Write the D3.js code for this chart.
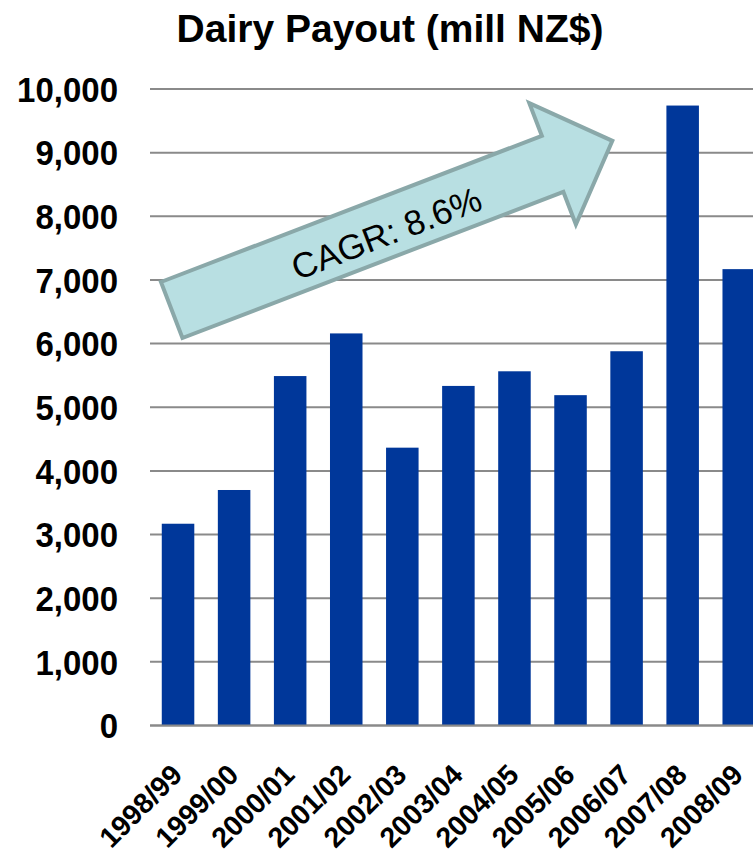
<!DOCTYPE html>
<html>
<head>
<meta charset="utf-8">
<script src="https://cdn.jsdelivr.net/npm/d3@7/dist/d3.min.js"></script>
<style>
  html, body { margin: 0; padding: 0; background: #ffffff; }
  svg { display: block; }
  text { font-family: "Liberation Sans", Arial, Helvetica, sans-serif; fill: #000; }
</style>
</head>
<body>
<svg id="chart" width="753" height="858"></svg>
<script>
// Dairy payout by season, millions of NZ$
const seasons = ["1998/99", "1999/00", "2000/01", "2001/02", "2002/03", "2003/04",
                 "2004/05", "2005/06", "2006/07", "2007/08", "2008/09"];
const payout = [3170, 3700, 5490, 6160, 4365, 5335, 5565, 5190, 5880, 9740, 7170];
const yTicks = [0, 1000, 2000, 3000, 4000, 5000, 6000, 7000, 8000, 9000, 10000];
const chartTitle = "Dairy Payout (mill NZ$)";
const cagrLabel = "CAGR: 8.6%";

const W = 753, H = 858;
const plotLeft = 150, plotTop = 89, plotBottom = 725.5;
const step = 56.07;

const svg = d3.select("#chart");

const x = d3.scaleBand()
  .domain(seasons)
  .range([plotLeft, plotLeft + step * seasons.length])
  .paddingInner(0.42)
  .paddingOuter(0.21);

const y = d3.scaleLinear()
  .domain([0, 10000])
  .range([plotBottom, plotTop]);

// Title
svg.append("text")
  .attr("x", 390)
  .attr("y", 42)
  .attr("text-anchor", "middle")
  .style("font-size", "39px")
  .style("font-weight", "bold")
  .text(chartTitle);

// Horizontal gridlines
svg.append("g")
  .selectAll("line")
  .data(yTicks)
  .join("line")
  .attr("x1", plotLeft)
  .attr("x2", W)
  .attr("y1", d => y(d))
  .attr("y2", d => y(d))
  .attr("stroke", "#8a8a8a")
  .attr("stroke-width", 2);

// Y axis labels (slightly tall letterforms)
const fmt = d3.format(",");
const yAxis = d3.axisLeft(y).tickValues(yTicks).tickFormat(fmt).tickSize(0).tickPadding(0);
const yg = svg.append("g").attr("transform", "translate(118,0)").call(yAxis);
yg.select(".domain").remove();
yg.selectAll(".tick text")
  .attr("x", 0)
  .attr("dy", "0.36em")
  .attr("transform", "scale(1,1.08)")
  .style("font-family", "\"Liberation Sans\", Arial, sans-serif")
  .style("font-size", "33px")
  .style("font-weight", "bold")
  .attr("fill", "#000");
// keep each label centred on its gridline after the vertical stretch
yg.selectAll(".tick").each(function (d) {
  d3.select(this).attr("transform", `translate(0,${y(d)})`);
});

// Bars
svg.append("g")
  .selectAll("rect")
  .data(seasons.map((s, i) => ({ season: s, value: payout[i] })))
  .join("rect")
  .attr("x", d => x(d.season))
  .attr("y", d => y(d.value))
  .attr("width", x.bandwidth())
  .attr("height", d => y(0) - y(d.value))
  .attr("fill", "#00379a");

// Redraw the baseline over the bar feet
svg.append("line")
  .attr("x1", plotLeft).attr("x2", W)
  .attr("y1", y(0)).attr("y2", y(0))
  .attr("stroke", "#8a8a8a").attr("stroke-width", 2);

// X axis labels, rotated
const xAxis = d3.axisBottom(x).tickSize(0).tickPadding(0);
const xg = svg.append("g").attr("transform", `translate(0,${plotBottom})`).call(xAxis);
xg.select(".domain").remove();
xg.selectAll(".tick text")
  .attr("text-anchor", "end")
  .attr("x", 0).attr("y", 0).attr("dy", 0)
  .attr("transform", "translate(6,51) rotate(-45)")
  .style("font-family", "\"Liberation Sans\", Arial, sans-serif")
  .style("font-size", "28.5px")
  .style("font-weight", "bold")
  .attr("fill", "#000");

// Growth arrow annotation
const arrow = { tailX: 171.7, tailY: 310, angle: -21, length: 472, shaft: 60, head: 130, headLen: 64 };
const hs = arrow.shaft / 2, hh = arrow.head / 2, base = arrow.length - arrow.headLen;
const arrowPts = [
  [0, -hs], [base, -hs], [base, -hh], [arrow.length, 0],
  [base, hh], [base, hs], [0, hs]
];
const ag = svg.append("g")
  .attr("transform", `translate(${arrow.tailX},${arrow.tailY}) rotate(${arrow.angle})`);
ag.append("path")
  .attr("d", d3.line()(arrowPts) + "Z")
  .attr("fill", "#b8dfe2")
  .attr("stroke", "#8aa8a9")
  .attr("stroke-width", 4)
  .attr("stroke-linejoin", "miter");
ag.append("text")
  .attr("x", 228)
  .attr("y", 5)
  .attr("text-anchor", "middle")
  .attr("dominant-baseline", "central")
  .style("font-size", "35px")
  .text(cagrLabel);
</script>
</body>
</html>
